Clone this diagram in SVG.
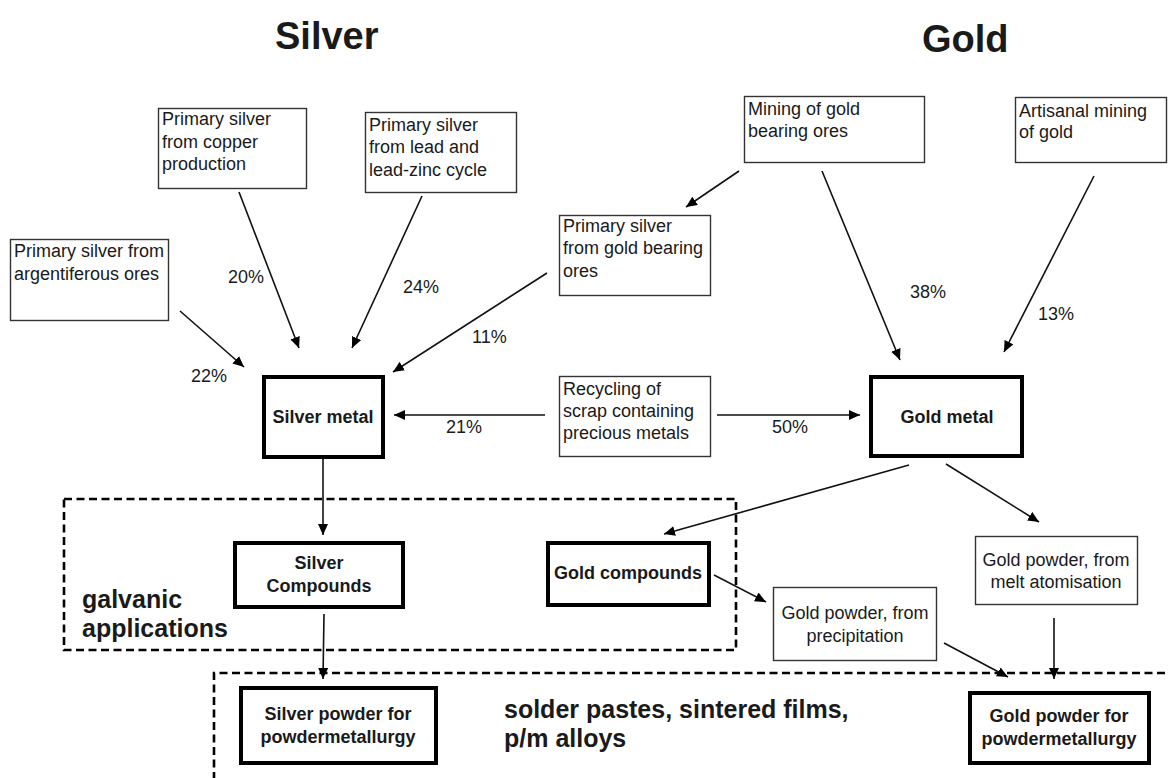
<svg xmlns="http://www.w3.org/2000/svg" width="1168" height="778" viewBox="0 0 1168 778">
<defs>
<style>
text{font-family:"Liberation Sans",Arial,sans-serif;fill:#1a1a1a}
.t{font-size:18px}
.b{font-size:18px;font-weight:bold;text-anchor:middle}
.title{font-size:38px;font-weight:bold}
.lab{font-size:25px;font-weight:bold}
.thin{fill:#fff;stroke:#333;stroke-width:1.4}
.thick{fill:#fff;stroke:#000;stroke-width:4}
.dash{fill:none;stroke:#000;stroke-width:2.6;stroke-dasharray:8 4.5}
.arr{fill:none;stroke:#111;stroke-width:1.6;marker-end:url(#ah)}
.c{text-anchor:middle}
</style>
<marker id="ah" markerUnits="userSpaceOnUse" markerWidth="12" markerHeight="10" refX="11" refY="5" orient="auto">
<path d="M0,0 L11,5 L0,10 z" fill="#000"/>
</marker>
</defs>
<rect width="1168" height="778" fill="#fff"/>

<g id="titles">
<text class="title" x="275" y="49">Silver</text>
<text class="title" x="922" y="52">Gold</text>
</g>

<g id="zones">
<rect class="dash" x="64" y="499" width="672" height="151"/>
<polyline class="dash" points="214,780 214,673 1170,673"/>
<text class="lab" x="82" y="608">galvanic</text>
<text class="lab" x="82" y="637">applications</text>
<text class="lab" x="504" y="718">solder pastes, sintered films,</text>
<text class="lab" x="504" y="747">p/m alloys</text>
</g>

<g id="connectors">
<line class="arr" x1="239" y1="192" x2="299" y2="348"/>
<line class="arr" x1="422" y1="196" x2="352" y2="348"/>
<line class="arr" x1="180" y1="311" x2="244" y2="367"/>
<line class="arr" x1="547" y1="273" x2="393" y2="372"/>
<line class="arr" x1="739" y1="171" x2="686" y2="207"/>
<line class="arr" x1="822" y1="171" x2="900" y2="360"/>
<line class="arr" x1="1094" y1="176" x2="1004" y2="352"/>
<line class="arr" x1="545" y1="415" x2="394" y2="415"/>
<line class="arr" x1="717" y1="415" x2="860" y2="415"/>
<line class="arr" x1="323" y1="459" x2="323" y2="535"/>
<line class="arr" x1="324" y1="614" x2="323" y2="679"/>
<line class="arr" x1="909" y1="465" x2="664" y2="534"/>
<line class="arr" x1="946" y1="464" x2="1039" y2="522"/>
<line class="arr" x1="714" y1="575" x2="766" y2="602"/>
<line class="arr" x1="944" y1="643" x2="1008" y2="677"/>
<line class="arr" x1="1054" y1="618" x2="1054" y2="679"/>
<text class="t" x="228" y="283">20%</text>
<text class="t" x="403" y="293">24%</text>
<text class="t" x="472" y="343">11%</text>
<text class="t" x="191" y="382">22%</text>
<text class="t" x="910" y="298">38%</text>
<text class="t" x="1038" y="320">13%</text>
<text class="t" x="446" y="433">21%</text>
<text class="t" x="772" y="433">50%</text>
</g>

<g id="copper">
<rect class="thin" x="158.5" y="108.5" width="148" height="80"/>
<text class="t" x="162" y="125">Primary silver</text>
<text class="t" x="162" y="148">from copper</text>
<text class="t" x="162" y="170">production</text>
</g>

<g id="lead">
<rect class="thin" x="365.5" y="112.5" width="151" height="80"/>
<text class="t" x="369" y="131">Primary silver</text>
<text class="t" x="369" y="153">from lead and</text>
<text class="t" x="369" y="176">lead-zinc cycle</text>
</g>

<g id="argentiferous">
<rect class="thin" x="10.5" y="239.5" width="158" height="81"/>
<text class="t" x="14" y="257">Primary silver from</text>
<text class="t" x="14" y="280">argentiferous ores</text>
</g>

<g id="silver-gold-ores">
<rect class="thin" x="559.5" y="215.5" width="151" height="80"/>
<text class="t" x="563" y="232">Primary silver</text>
<text class="t" x="563" y="254">from gold bearing</text>
<text class="t" x="563" y="277">ores</text>
</g>

<g id="mining">
<rect class="thin" x="744.5" y="96.5" width="180" height="66"/>
<text class="t" x="748" y="115">Mining of gold</text>
<text class="t" x="748" y="137">bearing ores</text>
</g>

<g id="artisanal">
<rect class="thin" x="1015.5" y="97.5" width="151" height="65"/>
<text class="t" x="1019" y="117">Artisanal mining</text>
<text class="t" x="1019" y="138">of gold</text>
</g>

<g id="recycling">
<rect class="thin" x="559.5" y="376.5" width="151" height="80"/>
<text class="t" x="563" y="395">Recycling of</text>
<text class="t" x="563" y="417">scrap containing</text>
<text class="t" x="563" y="439">precious metals</text>
</g>

<g id="silver-metal">
<rect class="thick" x="264" y="377" width="119" height="80"/>
<text class="b" x="323" y="423">Silver metal</text>
</g>

<g id="gold-metal">
<rect class="thick" x="871" y="377" width="151" height="79"/>
<text class="b" x="947" y="423">Gold metal</text>
</g>

<g id="silver-compounds">
<rect class="thick" x="235" y="543" width="168" height="64"/>
<text class="b" x="319" y="569">Silver</text>
<text class="b" x="319" y="592">Compounds</text>
</g>

<g id="gold-compounds">
<rect class="thick" x="548" y="543" width="161" height="62"/>
<text class="b" x="628" y="579">Gold compounds</text>
</g>

<g id="precipitation">
<rect class="thin" x="773.5" y="587.5" width="163" height="73"/>
<text class="t c" x="855" y="619">Gold powder, from</text>
<text class="t c" x="855" y="642">precipitation</text>
</g>

<g id="atomisation">
<rect class="thin" x="975.5" y="536.5" width="162" height="68"/>
<text class="t c" x="1056" y="566">Gold powder, from</text>
<text class="t c" x="1056" y="588">melt atomisation</text>
</g>

<g id="silver-powder">
<rect class="thick" x="241" y="688" width="195" height="75"/>
<text class="b" x="338" y="720">Silver powder for</text>
<text class="b" x="338" y="743">powdermetallurgy</text>
</g>

<g id="gold-powder">
<rect class="thick" x="970" y="693" width="179" height="70"/>
<text class="b" x="1059" y="722">Gold powder for</text>
<text class="b" x="1059" y="745">powdermetallurgy</text>
</g>
</svg>
